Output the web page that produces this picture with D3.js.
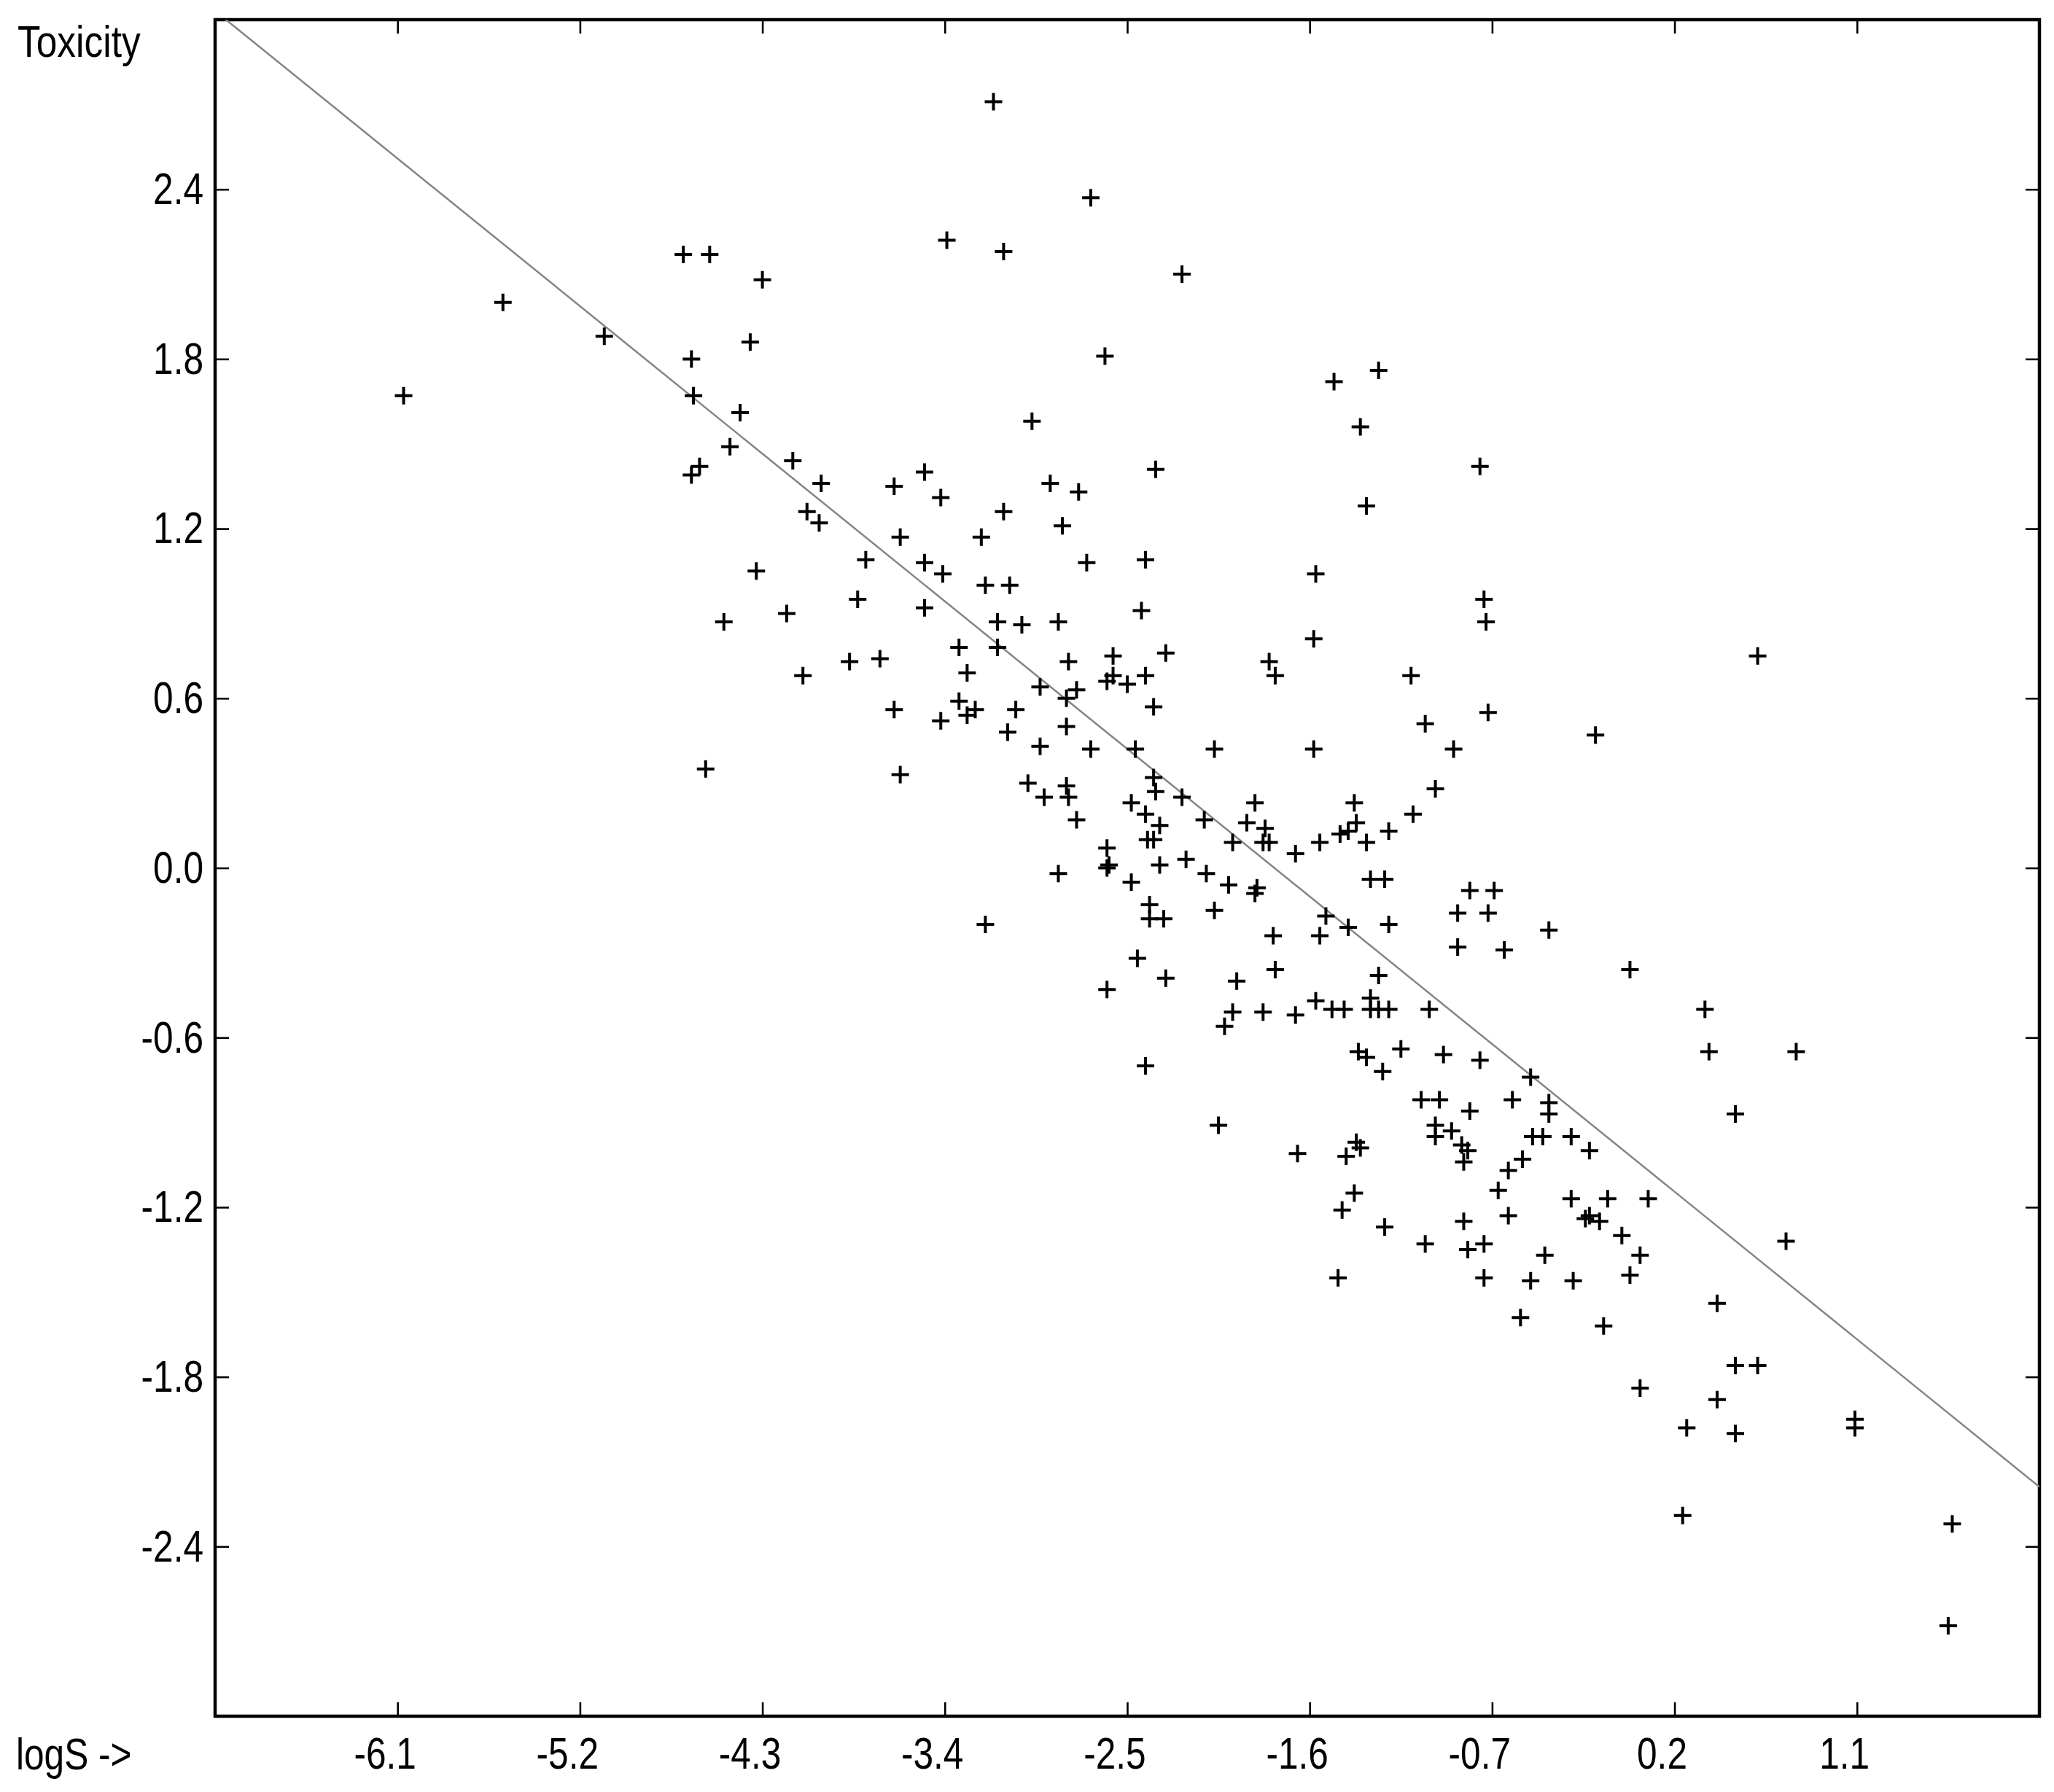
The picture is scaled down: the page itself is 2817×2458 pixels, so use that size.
<!doctype html>
<html lang="en">
<head>
<meta charset="utf-8">
<title>Toxicity vs logS</title>
<style>
  body { margin: 0; background: #fff; }
  svg { display: block; }
  text { font-family: "Liberation Sans", Arial, sans-serif; fill: #000; }
</style>
</head>
<body>
<svg id="chart"></svg>
<script src="https://d3js.org/d3.v7.min.js"></script>
<script>
// data (x = logS, y = Toxicity)
var logS = [
  -6.07,-5.58,-5.08,-4.69,-4.56,-4.30,-4.36,-4.65,-4.64,-4.41,-4.46,-4.61,-4.65,-4.15,-4.01,-4.08,-4.02,-4.33,-4.49,-4.18,
  -3.83,-3.79,-3.62,-3.65,-3.50,-3.42,-3.50,-3.41,-3.50,-3.39,
  -3.16,-2.68,-3.11,-2.23,-2.61,-1.48,-1.26,-1.35,-2.97,-0.76,-1.32,-2.36,-2.88,-2.74,-3.11,-2.82,-3.22,-2.70,-2.41,-1.57,
  -0.74,-0.73,-3.20,-3.08,-2.43,-3.14,-3.02,-2.84,-1.58,-3.33,-3.14,
  -3.87,-3.72,-4.10,-3.29,-2.79,-2.57,-2.31,-2.93,-2.80,-2.75,-2.60,-2.57,-2.50,-2.41,-2.37,-3.65,-3.33,-3.29,-3.25,-3.42,
  -3.05,-3.09,-2.80,-2.93,-2.68,-2.46,-2.07,-4.58,-3.62,-2.99,-2.91,-2.80,-2.79,-2.37,-2.36,-2.23,-2.48,-2.41,-2.75,-2.34,
  -2.12,-2.40,-2.37,-1.98,-2.60,-2.60,-2.59,-2.84,-2.34,-2.21,-2.11,-2.00,-2.48,-2.39,-2.39,-2.32,-2.07,-3.20,-2.45,-2.31,
  -2.60,-1.96,-1.98,-2.02,-2.41,-2.05,
  -1.80,-1.77,-1.10,0.61,-0.72,-1.03,-0.19,-1.58,-0.89,-0.98,-1.87,-1.38,-1.91,-1.82,-1.83,-1.80,-1.67,-1.55,-1.45,-1.41,
  -1.37,-1.32,-1.21,-1.09,-1.30,-1.23,-1.86,-1.87,-0.81,-0.69,-0.87,-0.72,-1.52,-1.78,-1.55,-1.41,-1.21,-0.42,-0.87,-0.64,
  -0.02,-1.77,-1.26,-1.83,-1.67,-1.57,-1.49,-1.43,-1.30,-1.30,-1.26,-1.21,-1.01,0.35,0.37,0.80,-1.36,-1.32,-1.15,-1.24,
  -0.94,-0.76,-0.51,0.50,-1.05,-0.96,-0.81,-0.60,-0.42,-0.42,-0.98,-0.98,-0.90,-1.37,-1.35,-1.66,-1.42,-0.85,-0.82,-0.84,
  -0.50,-0.45,-0.31,-0.22,-0.55,-0.62,-0.67,-1.38,-1.44,-0.31,-0.13,0.07,-0.22,-0.24,
  -0.17,-1.23,-0.84,-0.62,-0.06,-1.03,-0.82,-0.74,-0.44,0.03,-0.02,-1.46,-0.74,-0.51,-0.30,0.41,-0.56,-0.15,0.50,0.61,
  0.03,0.41,0.26,0.50,0.24,
  0.75,1.09,1.09,1.57,1.55
];
var toxicity = [
  1.67,2.00,1.88,2.17,2.17,2.08,1.86,1.80,1.67,1.61,1.49,1.42,1.39,1.44,1.36,1.26,1.22,1.05,0.87,0.90,
  0.95,1.09,1.17,1.35,1.40,1.31,1.08,1.04,0.92,2.22,
  2.71,2.37,2.18,2.10,1.81,1.72,1.76,1.56,1.58,1.42,1.28,1.41,1.36,1.33,1.26,1.21,1.17,1.08,1.09,1.04,
  0.95,0.87,1.00,1.00,0.91,0.87,0.86,0.87,0.81,0.78,0.78,
  0.73,0.74,0.68,0.69,0.73,0.75,0.76,0.64,0.60,0.63,0.66,0.68,0.65,0.68,0.57,0.56,0.59,0.54,0.56,0.52,
  0.56,0.48,0.50,0.43,0.42,0.42,0.42,0.35,0.33,0.30,0.25,0.29,0.25,0.32,0.27,0.25,0.23,0.19,0.17,0.15,
  0.17,0.10,0.10,0.09,0.07,0.00,0.01,-0.02,0.01,0.03,-0.02,-0.06,-0.05,-0.13,-0.18,-0.18,-0.15,-0.20,-0.32,-0.39,
  -0.43,-0.40,-0.51,-0.56,-0.70,-0.91,
  0.73,0.68,0.68,0.75,0.55,0.51,0.47,0.42,0.42,0.28,0.23,0.23,0.16,0.14,0.09,0.09,0.05,0.09,0.12,0.13,
  0.16,0.09,0.13,0.19,-0.04,-0.04,-0.07,-0.09,-0.08,-0.08,-0.16,-0.16,-0.17,-0.24,-0.24,-0.21,-0.20,-0.22,-0.28,-0.29,
  -0.36,-0.36,-0.38,-0.51,-0.52,-0.47,-0.50,-0.50,-0.46,-0.50,-0.50,-0.50,-0.50,-0.50,-0.65,-0.65,-0.65,-0.67,-0.64,-0.72,
  -0.66,-0.68,-0.74,-0.87,-0.82,-0.82,-0.86,-0.82,-0.83,-0.87,-0.91,-0.95,-0.93,-0.97,-0.99,-1.01,-1.02,-0.98,-1.00,-1.04,
  -0.95,-0.95,-0.95,-1.00,-1.03,-1.07,-1.14,-1.15,-1.21,-1.17,-1.17,-1.17,-1.23,-1.24,
  -1.25,-1.27,-1.25,-1.23,-1.30,-1.33,-1.35,-1.33,-1.37,-1.37,-1.44,-1.45,-1.45,-1.46,-1.46,-1.54,-1.59,-1.62,-1.76,-1.76,
  -1.84,-1.88,-1.98,-2.00,-2.29,
  -1.32,-1.95,-1.98,-2.32,-2.68
];

// regression line  toxicity = fitIntercept + fitSlope * logS
var fitSlope = -0.58;
var fitIntercept = -1.029;

var xTicks = [-6.1, -5.2, -4.3, -3.4, -2.5, -1.6, -0.7, 0.2, 1.1];
var yTicks = [-2.4, -1.8, -1.2, -0.6, 0.0, 0.6, 1.2, 1.8, 2.4];
var xDomain = [-7, 2];
var yDomain = [-3, 3];

var width = 2817, height = 2458;
var plotL = 295, plotR = 2797, plotT = 27, plotB = 2354;

var svg = d3.select("#chart").attr("width", width).attr("height", height);

var x = d3.scaleLinear().domain(xDomain).range([plotL, plotR]);
var y = d3.scaleLinear().domain(yDomain).range([plotB, plotT]);

var fmt = function(d) { return d.toFixed(1); };
var squeeze = "scale(0.8,1)";

// axes, ticks all pointing inward
var gx = svg.append("g").attr("transform", "translate(0," + plotB + ")")
    .call(d3.axisBottom(x).tickValues(xTicks).tickFormat(fmt).tickSize(-19).tickPadding(28));
gx.selectAll("text").attr("font-size", 62).attr("dx", -22).attr("transform", squeeze);

var gy = svg.append("g").attr("transform", "translate(" + plotL + ",0)")
    .call(d3.axisLeft(y).tickValues(yTicks).tickFormat(fmt).tickSize(-19).tickPadding(20));
gy.selectAll("text").attr("font-size", 62).attr("transform", squeeze);

svg.append("g").attr("transform", "translate(0," + plotT + ")")
    .call(d3.axisTop(x).tickValues(xTicks).tickFormat("").tickSize(-19));
svg.append("g").attr("transform", "translate(" + plotR + ",0)")
    .call(d3.axisRight(y).tickValues(yTicks).tickFormat("").tickSize(-19));

svg.selectAll(".domain").remove();
svg.selectAll(".tick line").attr("stroke", "#000").attr("stroke-width", 2.6);

// frame
svg.append("rect")
    .attr("x", plotL).attr("y", plotT)
    .attr("width", plotR - plotL).attr("height", plotB - plotT)
    .attr("fill", "none").attr("stroke", "#000").attr("stroke-width", 4.5);

// axis titles
svg.append("text").attr("transform", "translate(24,78) scale(0.83,1)")
    .attr("font-size", 62).text("Toxicity");
svg.append("text").attr("transform", "translate(22,2427) " + squeeze)
    .attr("font-size", 62).text("logS ->");

// fitted line, clipped to the plot box
svg.append("clipPath").attr("id", "plot")
  .append("rect").attr("x", plotL).attr("y", plotT)
    .attr("width", plotR - plotL).attr("height", plotB - plotT);

svg.append("line")
    .attr("clip-path", "url(#plot)")
    .attr("x1", x(xDomain[0])).attr("y1", y(fitIntercept + fitSlope * xDomain[0]))
    .attr("x2", x(xDomain[1])).attr("y2", y(fitIntercept + fitSlope * xDomain[1]))
    .attr("stroke", "#858585").attr("stroke-width", 2.5);

// points as + markers
var pts = d3.range(logS.length).map(function(i) { return [logS[i], toxicity[i]]; });

svg.append("g").selectAll("path")
    .data(pts)
  .enter().append("path")
    .attr("transform", function(d) { return "translate(" + x(d[0]) + "," + y(d[1]) + ")"; })
    .attr("d", "M-12,0H12M0,-12V12")
    .attr("stroke", "#000")
    .attr("stroke-width", 4)
    .attr("fill", "none");
</script>
</body>
</html>
